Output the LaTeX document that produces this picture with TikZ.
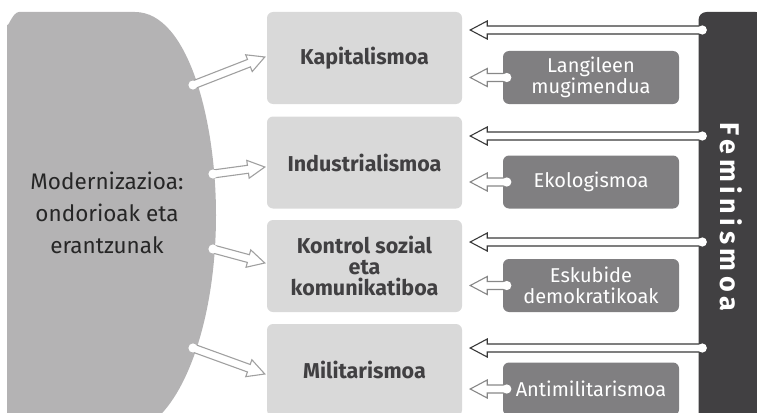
\documentclass[tikz,border=0pt]{standalone}
\usepackage{fontspec}
\setmainfont{Fira Sans}
\newfontfamily\femfont[LetterSpace=17]{Fira Sans}
\usepackage{graphicx}
\usepackage{tikz}
\usetikzlibrary{calc}
\definecolor{modgray}{HTML}{B4B3B4}
\definecolor{boxgray}{HTML}{D9D9D9}
\definecolor{movgray}{HTML}{807F81}
\definecolor{femgray}{HTML}{414042}
\definecolor{txtgray}{HTML}{414042}
\definecolor{arrdark}{HTML}{3A3A3A}
\definecolor{arrlight}{HTML}{A0A0A0}

\tikzset{
  midbox/.style={fill=boxgray, rounded corners=6pt, minimum width=195pt,
    minimum height=92pt, align=center, text=txtgray, inner sep=0pt,
    font=\bfseries\fontsize{21.5}{21}\selectfont},
  movbox/.style={fill=movgray, rounded corners=6pt, minimum width=176pt,
    minimum height=53pt, align=center, text=white, inner sep=0pt,
    font=\fontsize{20}{21}\selectfont},
  fembar/.style={fill=femgray, rounded corners=8pt, minimum width=65pt,
    minimum height=410pt, inner sep=0pt, text=white},
}

% hollow arrow: colour, from, to
\newcommand{\hollowarrow}[3]{%
  \coordinate (hb) at ($(#3)!17pt!(#2)$);
  \coordinate (s1) at ($(#2)!4pt!90:(#3)$);
  \coordinate (s2) at ($(#2)!4pt!-90:(#3)$);
  \coordinate (h1) at ($(hb)!4pt!90:(#3)$);
  \coordinate (h2) at ($(hb)!4pt!-90:(#3)$);
  \coordinate (w1) at ($(hb)!9pt!90:(#3)$);
  \coordinate (w2) at ($(hb)!9pt!-90:(#3)$);
  \fill[white] (s1) -- (h1) -- (w1) -- (#3) -- (w2) -- (h2) -- (s2) -- cycle;
  \draw[#1, line width=1.1pt, line join=miter]
    (s1) -- (h1) -- (w1) -- (#3) -- (w2) -- (h2) -- (s2);
  \fill[white] (#2) circle (4.6pt);
}

\begin{document}
\begin{tikzpicture}[x=1pt, y=-1pt]
\useasboundingbox (0,0) rectangle (757,412);

% modernization block
\fill[modgray] (7,420) -- (7,24) to[out=-90,in=180] (19,12) -- (135,12)
  .. controls (188,12) and (216,120) .. (216,215)
  .. controls (216,310) and (190,390) .. (155,420) -- cycle;
\node[text=black!85, align=center, font=\fontsize{22.5}{32}\selectfont]
  (modern) at (107,213) {Modernizazioa:\\ondorioak eta\\erantzunak};

% middle boxes
\node[midbox] (m1) at (364.5,58) {Kapitalismoa};
\node[midbox] (m2) at (364.5,162.5) {Industrialismoa};
\node[midbox] (m3) at (364.5,266) {Kontrol sozial\\eta\\komunikatiboa};
\node[midbox] (m4) at (364.5,370) {Militarismoa};

% movements
\node[movbox] (r1) at (591,77.5) {Langileen\\mugimendua};
\node[movbox] (r2) at (591,182) {Ekologismoa};
\node[movbox] (r3) at (591,285.5) {Eskubide\\demokratikoak};
\node[movbox] (r4) at (591,389) {Antimilitarismoa};

% feminism bar
\node[fembar] (fem) at (731,217)
  {\rotatebox{-90}{\femfont\bfseries\fontsize{27}{27}\selectfont Feminismoa}};

% arrows from the left block
\coordinate (l1) at (193,85);
\coordinate (l2) at (213,174);
\coordinate (l3) at (213,249);
\coordinate (l4) at (193,348);
\foreach \i/\ty in {1/57, 2/167, 3/263, 4/374}{
  \coordinate (t\i) at ($(m\i.west |- 0,\ty)+(-2,0)$);
  \hollowarrow{arrlight}{l\i}{t\i}
}

% arrows from feminism and the movements
\foreach \i/\fy in {1/30, 2/136, 3/242, 4/348}{
  \coordinate (fs\i) at ($(fem.west |- 0,\fy)+(4,0)$);
  \coordinate (ft\i) at ($(m\i.east |- 0,\fy)+(8,0)$);
  \hollowarrow{arrdark}{fs\i}{ft\i}
  \coordinate (rs\i) at ($(r\i.west)+(4,0)$);
  \coordinate (rt\i) at ($(m\i.east |- r\i.west)+(8,0)$);
  \hollowarrow{arrlight!85!black}{rs\i}{rt\i}
}
\end{tikzpicture}
\end{document}
